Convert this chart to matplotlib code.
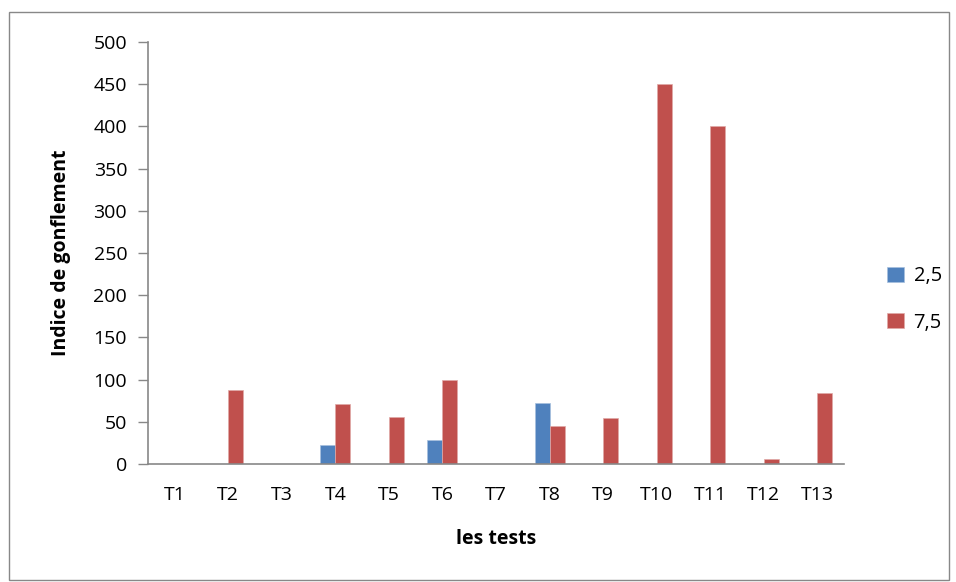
"""Indice de gonflement par test."""

import numpy as np
from matplotlib import pyplot as plt
from matplotlib.patches import Rectangle

plt.rcParams["font.family"] = ["Open Sans", "DejaVu Sans"]

tests = ["T1", "T2", "T3", "T4", "T5", "T6", "T7", "T8", "T9", "T10", "T11", "T12", "T13"]
serie_25 = [0, 0, 0, 23, 0, 29, 0, 72, 0, 0, 0, 0, 0]
serie_75 = [0, 88, 0, 71, 56, 100, 0, 45, 55, 450, 400, 6, 84]

fig = plt.figure(figsize=(9.56, 5.82), dpi=100)
ax = fig.add_axes([148 / 956, 1 - 464 / 582, 696 / 956, 422 / 582])

# outer border of the chart area
fig.patches.append(
    Rectangle((9 / 956, 2 / 582), 940 / 956, 568 / 582, transform=fig.transFigure,
              fill=False, edgecolor="#888888", linewidth=1.0)
)

x = np.arange(len(tests))
w = 0.28
ax.bar(x - w / 2, serie_25, w, color="#4F81BD", label="2,5", edgecolor="#A7C0DE", linewidth=0.5)
ax.bar(x + w / 2, serie_75, w, color="#C0504D", label="7,5", edgecolor="#E0A9A7", linewidth=0.5)

ax.set_xlim(-0.5, len(tests) - 0.5)
ax.set_ylim(0, 500)
ax.set_yticks(range(0, 501, 50))
ax.set_xticks(x)
ax.set_xticklabels(tests)
ax.tick_params(axis="x", length=0, pad=16, labelsize=14)
ax.tick_params(axis="y", length=7, width=1, color="#888888", pad=8, labelsize=14)

for side in ("top", "right"):
    ax.spines[side].set_visible(False)
for side in ("left", "bottom"):
    ax.spines[side].set_color("#888888")
    ax.spines[side].set_linewidth(1.2)

ax.set_xlabel("les tests", fontsize=14, fontweight="bold", labelpad=18)
ax.set_ylabel("Indice de gonflement", fontsize=14, fontweight="bold", labelpad=16)

ax.legend(loc="center left", bbox_to_anchor=(1.045, 0.39), frameon=False, fontsize=14.5,
          handlelength=0.8, handleheight=0.8, handletextpad=0.5, labelspacing=1.3,
          borderaxespad=0.2)

fig.savefig("out.png", dpi=100)
